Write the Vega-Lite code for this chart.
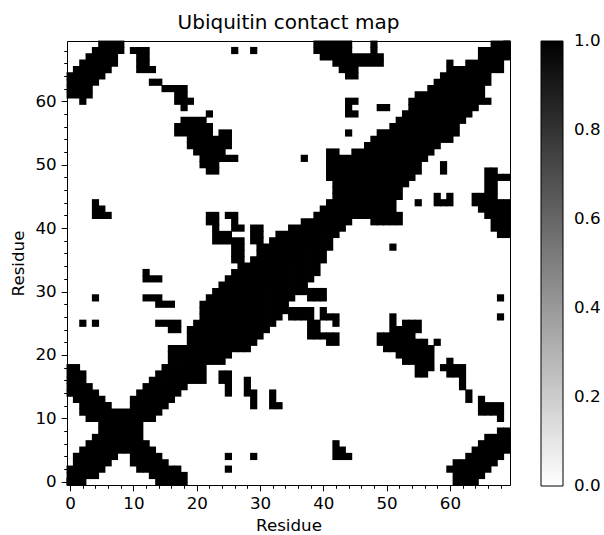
{
  "$schema": "https://vega.github.io/schema/vega-lite/v6.json",
  "autosize": {"type": "none"},
  "padding": {"left": 67, "top": 41, "right": 94, "bottom": 50},
  "width": 443,
  "height": 444,
  "background": "white",
  "title": {"text": "Ubiquitin contact map", "fontSize": 20, "font": "DejaVu Sans", "fontWeight": "normal", "color": "black", "offset": 8},
  "config": {
    "view": {"stroke": "black", "strokeWidth": 1},
    "font": "DejaVu Sans",
    "axis": {"labelFont": "DejaVu Sans", "titleFont": "DejaVu Sans", "labelFontSize": 16.7, "titleFontSize": 16.7, "titleFontWeight": "normal", "labelColor": "black", "titleColor": "black", "tickColor": "black", "domain": false, "grid": false, "labelPadding": 5},
    "legend": {"labelFont": "DejaVu Sans", "labelFontSize": 16.7, "labelColor": "black"}
  },
  "datasets": {
    "contacts": [
      {"i": 0, "a": 0, "b": 0}, {"i": 1, "a": 0, "b": 1}, {"i": 2, "a": 0, "b": 2}, {"i": 3, "a": 1, "b": 3},
      {"i": 4, "a": 1, "b": 4}, {"i": 5, "a": 2, "b": 5}, {"i": 6, "a": 3, "b": 6}, {"i": 7, "a": 4, "b": 7},
      {"i": 8, "a": 5, "b": 8}, {"i": 9, "a": 5, "b": 9}, {"i": 10, "a": 3, "b": 10}, {"i": 11, "a": 2, "b": 11},
      {"i": 12, "a": 2, "b": 6}, {"i": 12, "a": 10, "b": 12},
      {"i": 13, "a": 1, "b": 5}, {"i": 13, "a": 10, "b": 13},
      {"i": 14, "a": 0, "b": 4}, {"i": 14, "a": 11, "b": 14},
      {"i": 15, "a": 0, "b": 3}, {"i": 15, "a": 12, "b": 15},
      {"i": 16, "a": 0, "b": 2}, {"i": 16, "a": 13, "b": 16},
      {"i": 17, "a": 0, "b": 2}, {"i": 17, "a": 14, "b": 17},
      {"i": 18, "a": 0, "b": 1}, {"i": 18, "a": 15, "b": 18},
      {"i": 19, "a": 16, "b": 19}, {"i": 20, "a": 16, "b": 20}, {"i": 21, "a": 16, "b": 21},
      {"i": 22, "a": 19, "b": 22}, {"i": 23, "a": 19, "b": 23},
      {"i": 24, "a": 16, "b": 17}, {"i": 24, "a": 19, "b": 24},
      {"i": 25, "a": 2, "b": 2}, {"i": 25, "a": 4, "b": 4}, {"i": 25, "a": 14, "b": 17}, {"i": 25, "a": 20, "b": 25},
      {"i": 26, "a": 21, "b": 26}, {"i": 27, "a": 21, "b": 27},
      {"i": 28, "a": 14, "b": 16}, {"i": 28, "a": 21, "b": 28},
      {"i": 29, "a": 4, "b": 4}, {"i": 29, "a": 12, "b": 14}, {"i": 29, "a": 22, "b": 29},
      {"i": 30, "a": 23, "b": 30}, {"i": 31, "a": 24, "b": 31},
      {"i": 32, "a": 12, "b": 14}, {"i": 32, "a": 25, "b": 32},
      {"i": 33, "a": 12, "b": 12}, {"i": 33, "a": 26, "b": 33},
      {"i": 34, "a": 27, "b": 34},
      {"i": 35, "a": 26, "b": 27}, {"i": 35, "a": 29, "b": 35},
      {"i": 36, "a": 26, "b": 27}, {"i": 36, "a": 30, "b": 36},
      {"i": 37, "a": 26, "b": 27}, {"i": 37, "a": 30, "b": 37},
      {"i": 38, "a": 23, "b": 27}, {"i": 38, "a": 29, "b": 30}, {"i": 38, "a": 32, "b": 38},
      {"i": 39, "a": 23, "b": 25}, {"i": 39, "a": 29, "b": 30}, {"i": 39, "a": 33, "b": 39},
      {"i": 40, "a": 23, "b": 23}, {"i": 40, "a": 26, "b": 27}, {"i": 40, "a": 29, "b": 30}, {"i": 40, "a": 35, "b": 40},
      {"i": 41, "a": 22, "b": 23}, {"i": 41, "a": 26, "b": 26}, {"i": 41, "a": 37, "b": 41},
      {"i": 42, "a": 4, "b": 6}, {"i": 42, "a": 22, "b": 23}, {"i": 42, "a": 25, "b": 26}, {"i": 42, "a": 39, "b": 42},
      {"i": 43, "a": 4, "b": 5}, {"i": 43, "a": 40, "b": 43},
      {"i": 44, "a": 4, "b": 4}, {"i": 44, "a": 41, "b": 44},
      {"i": 45, "a": 42, "b": 45}, {"i": 46, "a": 42, "b": 46}, {"i": 47, "a": 42, "b": 47}, {"i": 48, "a": 41, "b": 48},
      {"i": 49, "a": 22, "b": 23}, {"i": 49, "a": 41, "b": 49},
      {"i": 50, "a": 21, "b": 23}, {"i": 50, "a": 41, "b": 50},
      {"i": 51, "a": 21, "b": 26}, {"i": 51, "a": 37, "b": 37}, {"i": 51, "a": 41, "b": 51},
      {"i": 52, "a": 20, "b": 24}, {"i": 52, "a": 41, "b": 42}, {"i": 52, "a": 45, "b": 52},
      {"i": 53, "a": 19, "b": 25}, {"i": 53, "a": 47, "b": 53},
      {"i": 54, "a": 19, "b": 25}, {"i": 54, "a": 48, "b": 54},
      {"i": 55, "a": 17, "b": 22}, {"i": 55, "a": 24, "b": 25}, {"i": 55, "a": 44, "b": 44}, {"i": 55, "a": 49, "b": 55},
      {"i": 56, "a": 17, "b": 22}, {"i": 56, "a": 51, "b": 56},
      {"i": 57, "a": 18, "b": 21}, {"i": 57, "a": 52, "b": 57},
      {"i": 58, "a": 22, "b": 22}, {"i": 58, "a": 44, "b": 45}, {"i": 58, "a": 53, "b": 58},
      {"i": 59, "a": 18, "b": 18}, {"i": 59, "a": 44, "b": 44}, {"i": 59, "a": 49, "b": 50}, {"i": 59, "a": 54, "b": 59},
      {"i": 60, "a": 2, "b": 2}, {"i": 60, "a": 17, "b": 19}, {"i": 60, "a": 44, "b": 45}, {"i": 60, "a": 54, "b": 60},
      {"i": 61, "a": 0, "b": 3}, {"i": 61, "a": 17, "b": 18}, {"i": 61, "a": 55, "b": 61},
      {"i": 62, "a": 0, "b": 3}, {"i": 62, "a": 15, "b": 18}, {"i": 62, "a": 57, "b": 62},
      {"i": 63, "a": 0, "b": 4}, {"i": 63, "a": 13, "b": 14}, {"i": 63, "a": 58, "b": 63},
      {"i": 64, "a": 0, "b": 5}, {"i": 64, "a": 44, "b": 45}, {"i": 64, "a": 59, "b": 64},
      {"i": 65, "a": 1, "b": 6}, {"i": 65, "a": 11, "b": 13}, {"i": 65, "a": 43, "b": 45}, {"i": 65, "a": 60, "b": 65},
      {"i": 66, "a": 2, "b": 7}, {"i": 66, "a": 11, "b": 12}, {"i": 66, "a": 42, "b": 49}, {"i": 66, "a": 60, "b": 60}, {"i": 66, "a": 63, "b": 66},
      {"i": 67, "a": 3, "b": 7}, {"i": 67, "a": 11, "b": 12}, {"i": 67, "a": 40, "b": 49}, {"i": 67, "a": 65, "b": 67},
      {"i": 68, "a": 4, "b": 8}, {"i": 68, "a": 10, "b": 12}, {"i": 68, "a": 26, "b": 26}, {"i": 68, "a": 29, "b": 29}, {"i": 68, "a": 39, "b": 44}, {"i": 68, "a": 48, "b": 48}, {"i": 68, "a": 65, "b": 68},
      {"i": 69, "a": 5, "b": 8}, {"i": 69, "a": 39, "b": 44}, {"i": 69, "a": 48, "b": 48}, {"i": 69, "a": 67, "b": 69}
    ]
  },
  "data": {"name": "contacts"},
  "layer": [
    {
      "mark": {"type": "rect", "xOffset": -3.6, "x2Offset": 3.6, "yOffset": 3.6, "y2Offset": -3.6},
      "encoding": {
        "x": {"field": "a", "type": "quantitative", "title": "Residue",
              "scale": {"domain": [-0.5, 69.5], "nice": false, "zero": false},
              "axis": {"orient": "bottom", "values": [0, 10, 20, 30, 40, 50, 60], "tickSize": 5.8, "labelOverlap": false, "titlePadding": 5}},
        "x2": {"field": "b"},
        "y": {"field": "i", "type": "quantitative", "title": "Residue",
              "scale": {"domain": [-0.5, 69.5], "nice": false, "zero": false},
              "axis": {"orient": "left", "values": [0, 10, 20, 30, 40, 50, 60], "tickSize": 5.8, "labelOverlap": false, "titlePadding": 7}},
        "y2": {"field": "i"},
        "color": {"datum": 1, "type": "quantitative",
                  "scale": {"domain": [0, 1], "range": ["#ffffff", "#000000"], "interpolate": "rgb"},
                  "legend": {"title": null, "orient": "right", "offset": 31, "gradientLength": 445, "gradientThickness": 22,
                             "gradientStrokeColor": "black", "gradientStrokeWidth": 1, "values": [0.0001, 0.2, 0.4, 0.6, 0.8, 0.9999],
                             "format": ".1f", "labelOffset": 11, "labelBaseline": "middle", "labelOverlap": false, "padding": 0}}
      }
    },
    {
      "mark": {"type": "rect", "xOffset": -3.6, "x2Offset": 3.6, "yOffset": 3.6, "y2Offset": -3.6},
      "encoding": {
        "x": {"field": "i", "type": "quantitative",
              "scale": {"domain": [-0.5, 69.5], "nice": false, "zero": false},
              "axis": {"orient": "bottom", "values": [2, 4, 6, 8, 12, 14, 16, 18, 22, 24, 26, 28, 32, 34, 36, 38, 42, 44, 46, 48, 52, 54, 56, 58, 62, 64, 66, 68],
                       "labels": false, "tickSize": 3.3, "title": null}},
        "x2": {"field": "i"},
        "y": {"field": "a", "type": "quantitative",
              "scale": {"domain": [-0.5, 69.5], "nice": false, "zero": false},
              "axis": {"orient": "left", "values": [2, 4, 6, 8, 12, 14, 16, 18, 22, 24, 26, 28, 32, 34, 36, 38, 42, 44, 46, 48, 52, 54, 56, 58, 62, 64, 66, 68],
                       "labels": false, "tickSize": 3.3, "title": null}},
        "y2": {"field": "b"},
        "color": {"datum": 1, "type": "quantitative"}
      }
    }
  ],
  "resolve": {"scale": {"x": "independent", "y": "independent"}, "axis": {"x": "independent", "y": "independent"}}
}
